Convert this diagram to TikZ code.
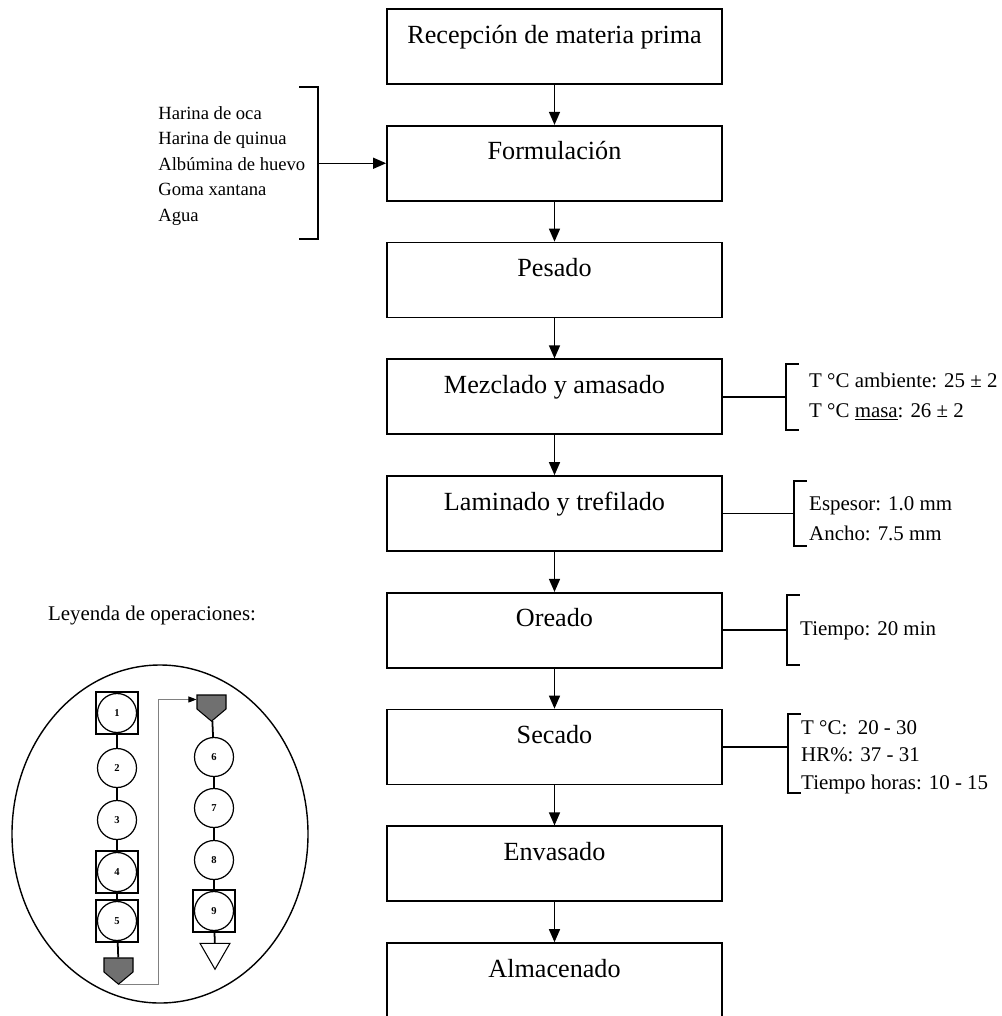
\documentclass[tikz,border=0pt]{standalone}
\usepackage{fontspec}
\setmainfont{Liberation Serif}
\usetikzlibrary{arrows.meta,positioning,shapes.geometric,shapes.symbols}
\definecolor{opgray}{HTML}{707070}

\begin{document}
\begin{tikzpicture}[node distance=0.8cm,box/.style={draw,line width=1pt,minimum width=6.7cm,inner sep=0.1cm,text height=0.58cm,text depth=0.72cm,font=\fontsize{14.9}{17}\selectfont},arr/.style={-{Triangle[length=0.26cm,width=0.22cm]},line width=0.8pt},brk/.style={line width=1pt},note/.style={anchor=west,inner sep=0pt,align=left,font=\fontsize{11.9}{17}\selectfont},op/.style={circle,draw,line width=0.7pt,fill=white,minimum size=0.78cm,inner sep=0pt,font=\fontsize{6}{6}\selectfont\bfseries},opsq/.style={draw,line width=0.7pt,minimum size=0.84cm,inner sep=0pt},store/.style={shape=signal,signal to=south,signal from=nowhere,signal pointer angle=100,draw,fill=opgray,line width=0.6pt,minimum width=0.58cm,minimum height=0.28cm,inner sep=0pt},link/.style={line width=1pt}]
\useasboundingbox (0,0) rectangle (20.02,-20.32);
% diagrama de flujo
\node[box] (rec) at (11.09,-0.93) {Recepción de materia prima};
\node[box,below=of rec] (form) {Formulación};
\node[box,below=of form] (pes) {Pesado};
\node[box,below=of pes] (mez) {Mezclado y amasado};
\node[box,below=of mez] (lam) {Laminado y trefilado};
\node[box,below=of lam] (ore) {Oreado};
\node[box,below=of ore] (sec) {Secado};
\node[box,below=of sec] (env) {Envasado};
\node[box,below=of env] (alm) {Almacenado};
\draw[arr] (rec)--(form);\draw[arr] (form)--(pes);\draw[arr] (pes)--(mez);\draw[arr] (mez)--(lam);
\draw[arr] (lam)--(ore);\draw[arr] (ore)--(sec);\draw[arr] (sec)--(env);\draw[arr] (env)--(alm);
% ingredientes
\node[note,font=\fontsize{10.6}{14.5}\selectfont] (ingr) at (3.16,-3.32) {Harina de oca\\Harina de quinua\\Albúmina de huevo\\Goma xantana\\Agua};
\coordinate (lb) at ([xshift=-1.36cm]form.west);
\draw[brk] ([shift={(-0.38,1.52)}]lb) -- ++(0.38,0) -- ++(0,-3.04) -- ++(-0.38,0);
\draw[arr] (lb) -- (form.west);
% condiciones
\coordinate (bm) at ([xshift=1.26cm]mez.east);
\draw[brk] (mez.east) -- (bm);
\draw[brk] ([shift={(0.26,0.66)}]bm) -- ++(-0.26,0) -- ++(0,-1.32) -- ++(0.26,0);
\node[note] (tm) at ([xshift=0.46cm]bm) {T °C ambiente: 25 ± 2\\T °C \underline{masa}: 26 ± 2};
\coordinate (bl) at ([xshift=1.42cm]lam.east);
\draw[brk] (lam.east) -- (bl);
\draw[brk] ([shift={(0.26,0.65)}]bl) -- ++(-0.26,0) -- ++(0,-1.3) -- ++(0.26,0);
\node[note] (tl) at ([shift={(0.3,-0.1)}]bl) {Espesor: 1.0 mm\\Ancho: 7.5 mm};
\coordinate (bo) at ([xshift=1.28cm]ore.east);
\draw[brk] (ore.east) -- (bo);
\draw[brk] ([shift={(0.26,0.7)}]bo) -- ++(-0.26,0) -- ++(0,-1.4) -- ++(0.26,0);
\node[note] (to) at ([xshift=0.26cm]bo) {Tiempo: 20 min};
\coordinate (bs) at ([xshift=1.3cm]sec.east);
\draw[brk] (sec.east) -- (bs);
\draw[brk] ([shift={(0.26,0.66)}]bs) -- ++(-0.26,0) -- ++(0,-1.58) -- ++(0.26,0);
\node[note,font=\fontsize{11.9}{15.6}\selectfont] (ts) at ([shift={(0.26,-0.2)}]bs) {T °C:~ 20 - 30\\HR\%: 37 - 31\\Tiempo horas: 10 - 15};
% leyenda
\node[font=\fontsize{11.9}{14}\selectfont] (ley) at (3.04,-12.3) {Leyenda de operaciones:};
\draw[line width=0.8pt] (3.2,-16.68) ellipse [x radius=2.96cm,y radius=3.38cm];
\node[opsq] (q1) at (2.34,-14.26) {};
\node[op] (o1) at (2.34,-14.26) {1};
\node[op] (o2) at (2.34,-15.36) {2};
\node[op] (o3) at (2.34,-16.40) {3};
\node[opsq] (q4) at (2.34,-17.44) {};
\node[op] (o4) at (2.34,-17.44) {4};
\node[opsq] (q5) at (2.34,-18.42) {};
\node[op] (o5) at (2.34,-18.42) {5};
\node[store] (sl) at (2.37,-19.3) {};
\node[store] (sr) at (4.23,-14.04) {};
\node[op] (o6) at (4.28,-15.14) {6};
\node[op] (o7) at (4.28,-16.16) {7};
\node[op] (o8) at (4.28,-17.20) {8};
\node[opsq] (q9) at (4.28,-18.22) {};
\node[op] (o9) at (4.28,-18.22) {9};
\node[regular polygon,regular polygon sides=3,shape border rotate=180,draw,line width=0.6pt,minimum size=0.69cm,inner sep=0pt] (fin) at (4.3,-19.04) {};
\draw[link] (q1)--(o2);\draw[link] (o2)--(o3);\draw[link] (o3)--(q4);\draw[link] (q4)--(q5);\draw[link] (q5)--(sl);
\draw[link] (sr)--(o6);\draw[link] (o6)--(o7);\draw[link] (o7)--(o8);\draw[link] (o8)--(q9);\draw[link] (q9)--(fin);
\draw[gray,line width=0.5pt,-{Triangle[length=0.16cm,width=0.12cm,black]}] (sl.south) -- ++(0.79,0) |- ([yshift=-0.1cm]sr.north west);
\end{tikzpicture}
\end{document}
